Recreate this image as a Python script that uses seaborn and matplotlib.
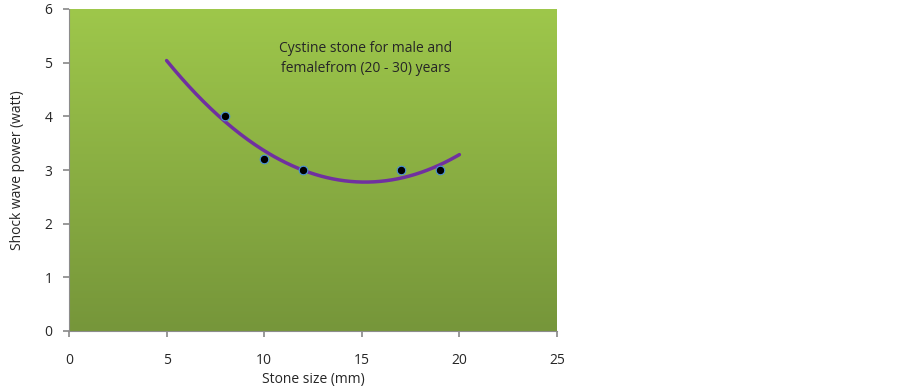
import numpy as np
import matplotlib
matplotlib.use("Agg")
import matplotlib.pyplot as plt
import seaborn as sns
from matplotlib.colors import LinearSegmentedColormap

stone_size = [8, 10, 12, 17, 19]
power = [4, 3.2, 3, 3, 3]
x_ticks = [0, 5, 10, 15, 20, 25]
y_ticks = [0, 1, 2, 3, 4, 5, 6]
trend_range = [5, 20]

sns.set_theme(style="white")
plt.rcParams['font.family'] = ['Open Sans', 'DejaVu Sans']

fig = plt.figure(figsize=(9.03, 3.91), dpi=100)
ax = fig.add_axes([69/903, 60/391, 488/903, 322/391])

# gradient background
cmap = LinearSegmentedColormap.from_list("g", ["#76963a", "#9ec74b"])
grad = np.linspace(0, 1, 256).reshape(-1, 1)
ax.imshow(grad, aspect="auto", cmap=cmap, origin="lower",
          extent=[0, 25, 0, 6], zorder=0)

# polynomial trendline
coef = np.polyfit(stone_size, power, 2)
xs = np.linspace(trend_range[0], trend_range[1], 200)
ys = np.polyval(coef, xs)
sns.lineplot(x=xs, y=ys, ax=ax, color="#7030a0", linewidth=2.5, zorder=2)

sns.scatterplot(x=stone_size, y=power, ax=ax, color="black", s=38,
                edgecolor="#4a90d9", linewidth=0.8, zorder=3)

ax.set_xlim(0, 25)
ax.set_ylim(0, 6)
ax.set_xticks(x_ticks)
ax.set_yticks(y_ticks)
ax.tick_params(axis="both", labelsize=10, length=4, color="#8c8c8c",
               direction="out", bottom=True, left=True)
ax.tick_params(axis="x", pad=12)
ax.tick_params(axis="y", pad=8)
for s in ["top", "right"]:
    ax.spines[s].set_visible(False)
for s in ["left", "bottom"]:
    ax.spines[s].set_color("#8c8c8c")
    ax.spines[s].set_linewidth(0.8)

ax.set_xlabel("Stone size (mm)", fontsize=10, labelpad=3)
ax.set_ylabel("Shock wave power (watt)", fontsize=10, labelpad=14)

ax.text(15.2, 5.07, "Cystine stone for male and\nfemalefrom (20 - 30) years",
        ha="center", va="center", fontsize=10, linespacing=1.45)

fig.savefig("out.png", dpi=100)
